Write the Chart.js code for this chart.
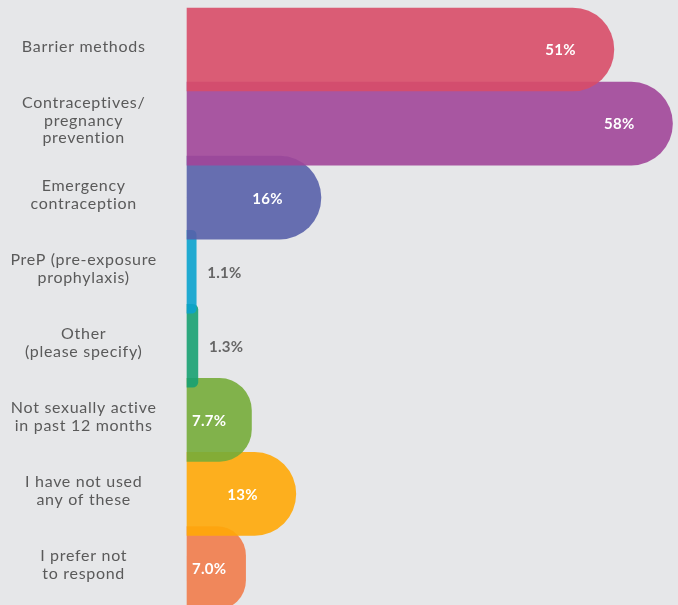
<!DOCTYPE html>
<html>
<head>
<meta charset="utf-8">
<script src="https://cdn.jsdelivr.net/npm/chart.js@4.4.1/dist/chart.umd.min.js"></script>
<style>
  html, body { margin: 0; padding: 0; background: #e6e7e9; }
  #wrap { width: 678px; height: 605px; position: relative; }
</style>
</head>
<body>
<div id="wrap"><canvas id="chart"></canvas></div>
<script>
// data
const categories = [
  'Barrier methods',
  ['Contraceptives/', 'pregnancy', 'prevention'],
  ['Emergency', 'contraception'],
  ['PreP (pre-exposure', 'prophylaxis)'],
  ['Other', '(please specify)'],
  ['Not sexually active', 'in past 12 months'],
  ['I have not used', 'any of these'],
  ['I prefer not', 'to respond'],
]
const values = [51, 58, 16, 1.1, 1.3, 7.7, 13, 7.0]
const valueLabels = ['51%', '58%', '16%', '1.1%', '1.3%', '7.7%', '13%', '7.0%']
const colors = [
  'rgba(216, 76, 104, 0.9)',
  'rgba(161, 70, 153, 0.9)',
  'rgba(88, 96, 170, 0.9)',
  'rgba(10, 163, 206, 0.9)',
  'rgba(23, 161, 114, 0.9)',
  'rgba(118, 172, 58, 0.9)',
  'rgba(255, 168, 8, 0.9)',
  'rgba(241, 124, 75, 0.9)',
]

// upper bars sit on top of lower ones, so feed the library bottom-up
const rev = (a) => a.slice().reverse()

// wider tracking, closer to the original typeface
const spacingPlugin = {
  id: 'spacing',
  beforeUpdate(chart) {
    chart.ctx.letterSpacing = '0.7px'
  },
  beforeDraw(chart) {
    chart.ctx.letterSpacing = '0.7px'
  },
}

const valueLabelPlugin = {
  id: 'valueLabels',
  afterDatasetsDraw(chart) {
    const ctx = chart.ctx
    const meta = chart.getDatasetMeta(0)
    const texts = rev(valueLabels)
    const vals = rev(values)
    ctx.save()
    ctx.letterSpacing = '0.3px'
    ctx.font = 'bold 15px Lato, "Open Sans", sans-serif'
    ctx.textBaseline = 'middle'
    meta.data.forEach((bar, i) => {
      const t = texts[i]
      const w = ctx.measureText(t).width
      ctx.textAlign = 'left'
      if (vals[i] >= 5) {
        ctx.fillStyle = '#ffffff'
        const x = Math.max(bar.x - 38 - w, bar.base + 5)
        ctx.fillText(t, x, bar.y + 1)
      } else {
        ctx.fillStyle = '#666666'
        ctx.fillText(t, bar.x + 11, bar.y + 1)
      }
    })
    ctx.restore()
  },
}

new Chart(document.getElementById('chart'), {
  type: 'bar',
  data: {
    labels: rev(categories),
    datasets: [
      {
        data: rev(values),
        backgroundColor: rev(colors),
        borderWidth: 0,
        borderSkipped: 'start',
        borderRadius: 42,
        barThickness: 83,
        clip: false,
      },
    ],
  },
  options: {
    indexAxis: 'y',
    responsive: true,
    maintainAspectRatio: false,
    animation: false,
    layout: { padding: { top: 12.5, bottom: 0, left: 0, right: 0 } },
    plugins: {
      legend: { display: false },
      tooltip: { enabled: false },
    },
    scales: {
      x: {
        display: false,
        min: 0,
        max: 58.66,
      },
      y: {
        reverse: true,
        afterFit(scale) {
          scale.width = 187
          scale.paddingTop = 0
          scale.paddingBottom = 0
        },
        grid: { display: false, drawTicks: false },
        border: { display: false },
        ticks: {
          crossAlign: 'center',
          padding: 30,
          labelOffset: -3,
          color: '#5a5a5a',
          font: { family: 'Lato, "Open Sans", sans-serif', size: 16, lineHeight: 1.1 },
        },
      },
    },
  },
  plugins: [spacingPlugin, valueLabelPlugin],
})
</script>
</body>
</html>
